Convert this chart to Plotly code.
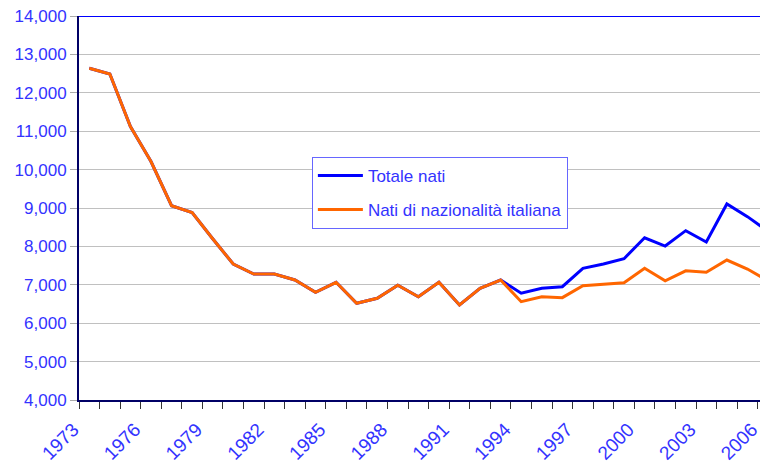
import plotly.graph_objects as go

# Births per year
years = list(range(1973, 2007))

totale_nati = [
    12640, 12490, 11120, 10210, 9060, 8880, 8200, 7540, 7280, 7280,
    7125, 6805, 7065, 6520, 6650, 6990, 6690, 7065, 6475, 6910,
    7125, 6780, 6910, 6950, 7430, 7540, 7680, 8225, 8010, 8410,
    8115, 9105, 8775, 8395,
]

nati_italiani = [
    12640, 12490, 11120, 10210, 9060, 8880, 8200, 7540, 7280, 7280,
    7125, 6805, 7065, 6520, 6650, 6990, 6690, 7065, 6475, 6910,
    7125, 6560, 6690, 6665, 6975, 7015, 7055, 7430, 7105, 7365,
    7325, 7645, 7410, 7105,
]

label_years = list(range(1973, 2007, 3))
label_text = [str(y) for y in label_years]

BLUE = "#0000ff"
ORANGE = "#ff6600"
TEXT_BLUE = "#3333ff"
NAVY = "#000066"
FONT = "Liberation Sans, Arial, sans-serif"

fig = go.Figure()

fig.add_trace(go.Scatter(
    x=years, y=totale_nati, mode="lines", name="Totale nati",
    line=dict(color=BLUE, width=3), legendgroup="a",
))
fig.add_trace(go.Scatter(
    x=years, y=nati_italiani, mode="lines", name="Nati di nazionalità italiana",
    line=dict(color=ORANGE, width=3), legendgroup="b",
))

# blue border on top of the plot area
fig.add_shape(type="line", xref="paper", yref="y", x0=0, x1=1, y0=14000, y1=14000,
              line=dict(color=BLUE, width=2))

# page body adds an 8px offset
fig.update_layout(
    width=760, height=455,
    margin=dict(l=71, r=0, t=8, b=63),
    paper_bgcolor="white", plot_bgcolor="white",
    font=dict(family=FONT, size=17, color=TEXT_BLUE),
    legend=dict(
        x=0.338, y=0.633, xanchor="left", yanchor="top",
        bgcolor="white", bordercolor="#6666ff", borderwidth=1,
        font=dict(family=FONT, size=17, color=TEXT_BLUE),
        tracegroupgap=9, itemwidth=45,
    ),
)

fig.update_xaxes(
    range=[1972.5, 2006.0], automargin=False,
    tickmode="array", tickvals=label_years, ticktext=label_text,
    tickangle=-45, ticks="", tickfont=dict(size=19),
    ticklabelstandoff=9, ticklabelshift=-16, ticklabeloverflow="allow",
    showgrid=False, zeroline=False,
    showline=True, linecolor=NAVY, linewidth=2,
    minor=dict(ticks="outside", tick0=1972.5, dtick=1, ticklen=7,
               tickcolor="#333333", tickwidth=1, showgrid=False),
)

fig.update_yaxes(
    range=[4000, 14000], dtick=1000, tickformat=",", automargin=False,
    ticklabeloverflow="allow",
    ticks="outside", ticklen=7, tickcolor="#aaaaaa",
    showgrid=True, gridcolor="#c0c0c0", gridwidth=1,
    zeroline=False, showline=True, linecolor=NAVY, linewidth=2,
)

fig.write_html("out.html")
